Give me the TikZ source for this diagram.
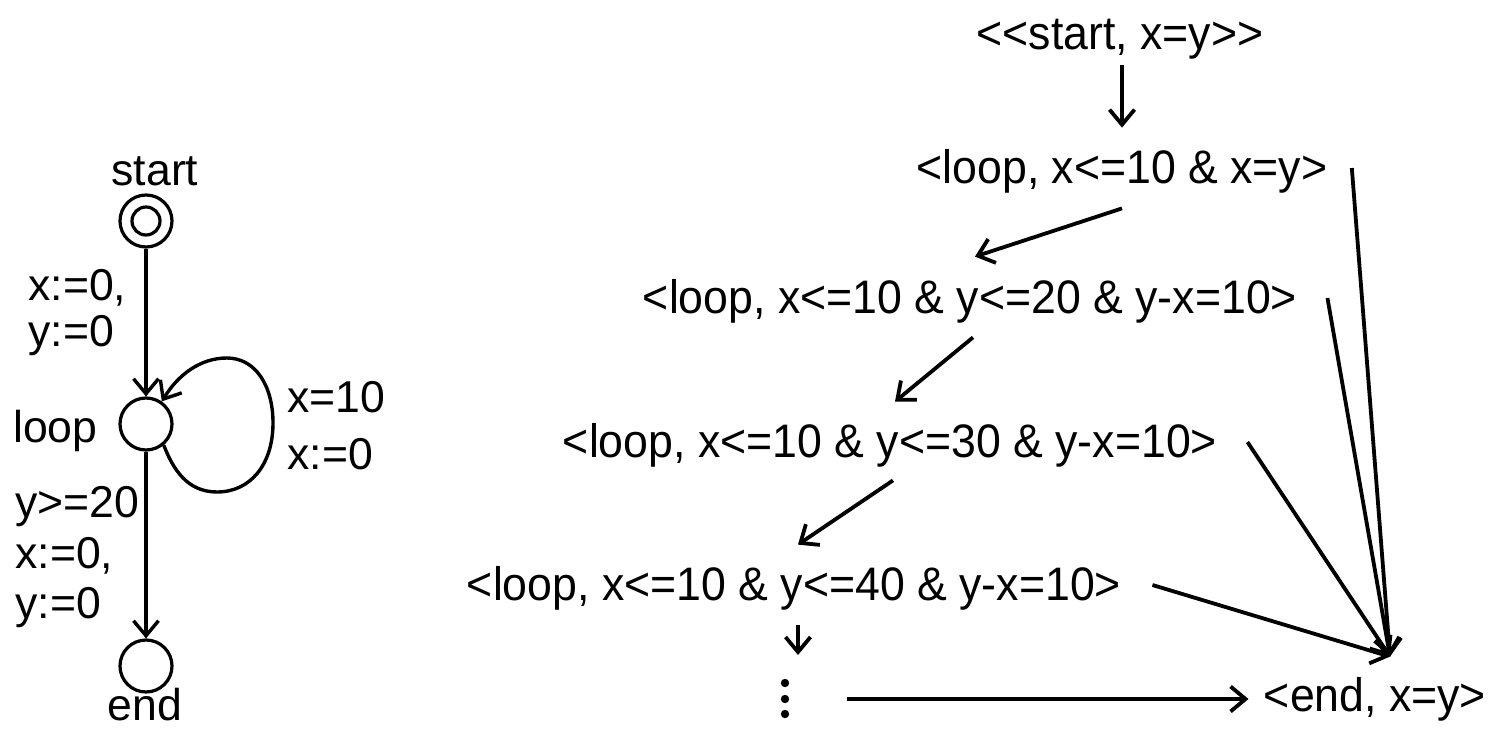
\documentclass[tikz,border=0pt]{standalone}
\usepackage{fontspec}
\setmainfont{Liberation Sans}
\newfontfamily\cfgfont{Liberation Sans}[FakeStretch=0.95]
\usetikzlibrary{arrows.meta}
\begin{document}
\begin{tikzpicture}[x=0.5pt,y=-0.5pt,
  lbl/.style={inner sep=0pt,font=\fontsize{22.3}{26}\selectfont},
  cfg/.style={inner sep=0pt,text height=16pt,text depth=5pt,font=\cfgfont\fontsize{23.5}{27}\selectfont},
  state/.style={draw,circle,line width=1.6pt,minimum size=26pt,inner sep=0pt},
  arr/.style={line width=1.7pt,-{Straight Barb[length=7.5pt,width=12.5pt]}},
  arrR/.style={arr,line width=1.9pt}]
\useasboundingbox (0,0) rectangle (1499,733);

% ---- left automaton ----
\node[lbl,anchor=base] (tstart) at (155,185) {start};
\node[state] (s) at (146,221) {};
\draw[line width=1.6pt] (s.center) circle[radius=7pt];
\node[state] (lp) at (146,424) {};
\node[state] (e) at (146,666) {};
\node[lbl,anchor=base east] (tloop) at (98,442) {loop};
\node[lbl,anchor=base] (tend) at (145,720) {end};
\node[lbl,anchor=base west] (a1) at (28,300) {x:=0,};
\node[lbl,anchor=base west] (a2) at (28,346) {y:=0};
\node[lbl,anchor=base west] (b1) at (287,412) {x=10};
\node[lbl,anchor=base west] (b2) at (287,469) {x:=0};
\node[lbl,anchor=base west] (c1) at (15,517) {y>=20};
\node[lbl,anchor=base west] (c2) at (15,568) {x:=0,};
\node[lbl,anchor=base west] (c3) at (15,618) {y:=0};

\draw[arr] (s) -- (lp);
\draw[arr] (lp) -- (e);
\begin{scope}[shift={(lp.center)}]
\draw[arr] (lp.-50) .. controls (27,45) and (41,68) .. (71,68)
  .. controls (104,68) and (127,41) .. (127,-1)
  .. controls (127,-39) and (109,-66) .. (81,-66)
  .. controls (54,-66) and (32,-49) .. (lp.55);
\end{scope}

% ---- right: zone graph ----
\node[cfg,anchor=base] (s0) at (1120,50) {<\kern0pt<start, x=y>\kern0pt>};
\node[cfg,anchor=base] (l1) at (1122,184) {<loop, x<=10 \& x=y>};
\node[cfg,anchor=base] (l2) at (970,313) {<loop, x<=10 \& y<=20 \& y-x=10>};
\node[cfg,anchor=base] (l3) at (890,457) {<loop, x<=10 \& y<=30 \& y-x=10>};
\node[cfg,anchor=base] (l4) at (794,600) {<loop, x<=10 \& y<=40 \& y-x=10>};
\node[cfg,anchor=base] (en) at (1375,711) {<end, x=y>};
\coordinate (dots) at (785,699);
\fill ([shift={(0,-16)}]dots) circle[radius=2.1pt];
\fill (dots) circle[radius=2.1pt];
\fill ([shift={(0,15)}]dots) circle[radius=2.1pt];

\draw[arrR] ([shift={(2,5)}]s0.south) -- ([shift={(0,-24)}]l1.north);
\draw[arrR] ([shift={(0,14)}]l1.south) -- ([shift={(5,-24)}]l2.north);
\draw[arrR] ([shift={(3,14)}]l2.south) -- ([shift={(5,-23)}]l3.north);
\draw[arrR] ([shift={(3,13)}]l3.south) -- ([shift={(4,-23)}]l4.north);
\draw[arrR] ([shift={(4,15)}]l4.south) -- ([shift={(13,-44)}]dots);
\draw[arrR] ([shift={(62,0)}]dots) -- ([shift={(-15,-1)}]en.west);
\coordinate (hub) at ([shift={(15,-22)}]en.north);
\draw[arrR] ([shift={(24,-5)}]l1.east) -- (hub);
\draw[arrR] ([shift={(30,-4)}]l2.east) -- (hub);
\draw[arrR] ([shift={(30,-4)}]l3.east) -- (hub);
\draw[arrR] ([shift={(31,-4)}]l4.east) -- (hub);
\end{tikzpicture}
\end{document}
